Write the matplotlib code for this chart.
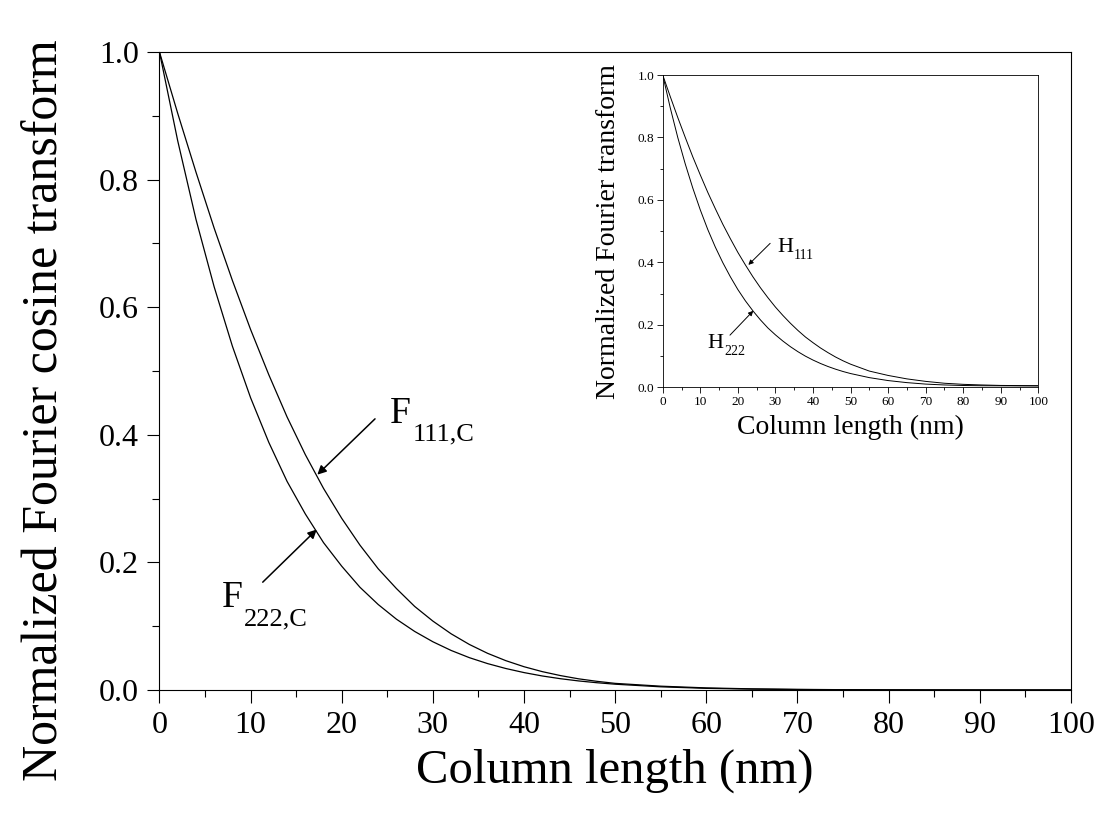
import numpy as np
import matplotlib
matplotlib.use("Agg")
import matplotlib.pyplot as plt
from matplotlib.ticker import MultipleLocator, FormatStrFormatter

plt.rcParams["font.family"] = ["Liberation Serif", "DejaVu Serif"]

# main panel: column length (nm) vs normalized Fourier cosine transform
col_len = [0, 2, 4, 6, 8, 10, 12, 14, 16, 18, 20, 22, 24, 26, 28, 30, 32, 34,
           36, 38, 40, 42, 44, 46, 48, 50, 55, 60, 65, 70, 75, 80, 85, 90, 95, 100]
f111 = [1.000, 0.904, 0.812, 0.724, 0.642, 0.565, 0.494, 0.428, 0.369, 0.316,
        0.269, 0.227, 0.190, 0.159, 0.131, 0.108, 0.0881, 0.0714, 0.0575, 0.0460,
        0.0365, 0.0288, 0.0226, 0.0175, 0.0136, 0.0104, 0.0060, 0.0033, 0.0018,
        0.0010, 0.0005, 0.0003, 0.0002, 0.0001, 0.0001, 0.0001]
f222 = [1.000, 0.861, 0.738, 0.632, 0.539, 0.458, 0.388, 0.327, 0.276, 0.231,
        0.194, 0.161, 0.134, 0.111, 0.0918, 0.0756, 0.0620, 0.0507, 0.0414, 0.0337,
        0.0273, 0.0220, 0.0177, 0.0142, 0.0114, 0.0091, 0.0050, 0.0026, 0.0014,
        0.0007, 0.0004, 0.0002, 0.0001, 0.0001, 0.0001, 0.0001]

# inset: normalized Fourier transform H
h111 = [1.000, 0.931, 0.864, 0.800, 0.738, 0.680, 0.624, 0.572, 0.522, 0.476,
        0.432, 0.392, 0.354, 0.319, 0.287, 0.257, 0.230, 0.205, 0.182, 0.161,
        0.143, 0.126, 0.111, 0.0971, 0.0849, 0.0741, 0.0520, 0.0380, 0.0270,
        0.0190, 0.0130, 0.0095, 0.0075, 0.0060, 0.0055, 0.0050]
h222 = [1.000, 0.895, 0.800, 0.715, 0.638, 0.568, 0.505, 0.449, 0.399, 0.354,
        0.313, 0.277, 0.245, 0.216, 0.190, 0.168, 0.148, 0.130, 0.114, 0.0997,
        0.0873, 0.0763, 0.0666, 0.0581, 0.0506, 0.0441, 0.0310, 0.0216, 0.0150,
        0.0103, 0.0075, 0.0058, 0.0050, 0.0048, 0.0046, 0.0045]


def sub_label(axis, x, y, main, sub, size, sub_size, dx, dy):
    # letter plus a separately placed subscript (closer to the printed look)
    axis.text(x, y, main, fontsize=size, ha="left", va="baseline")
    axis.annotate(sub, xy=(x, y), xytext=(dx, dy), textcoords="offset points",
                  fontsize=sub_size, ha="left", va="baseline")


fig = plt.figure(figsize=(11.02, 8.19), dpi=100)

ax = fig.add_axes([0.1447, 0.1575, 0.8271, 0.7790])
ax.plot(col_len, f111, color="black", lw=0.9)
ax.plot(col_len, f222, color="black", lw=0.9)
ax.set_xlim(0, 100)
ax.set_ylim(0, 1.0)
ax.xaxis.set_major_locator(MultipleLocator(10))
ax.xaxis.set_minor_locator(MultipleLocator(5))
ax.yaxis.set_major_locator(MultipleLocator(0.2))
ax.yaxis.set_minor_locator(MultipleLocator(0.1))
ax.yaxis.set_major_formatter(FormatStrFormatter("%.1f"))
ax.tick_params(which="major", direction="out", length=9, width=0.8, labelsize=23, pad=6)
ax.tick_params(which="minor", direction="out", length=5, width=0.8)
for s in ax.spines.values():
    s.set_linewidth(0.8)
ax.set_xlabel("Column length (nm)", fontsize=35, labelpad=6)
fig.text(45 / 1102, 1 - 410 / 819, "Normalized Fourier cosine transform",
         rotation=90, fontsize=36, ha="center", va="center")

arrow = dict(arrowstyle="-|>", color="black", lw=1.1, mutation_scale=13,
             shrinkA=0, shrinkB=0)
ax.annotate("", xy=(17.32, 0.3375), xytext=(23.65, 0.425), arrowprops=arrow)
ax.annotate("", xy=(17.26, 0.2516), xytext=(11.33, 0.169), arrowprops=arrow)
sub_label(ax, 25.3, 0.419, "F", "111,C", 27, 19, 16, -13)
sub_label(ax, 6.83, 0.130, "F", "222,C", 27, 19, 16, -13)

# inset
ins = fig.add_axes([0.6014, 0.5271, 0.3408, 0.3813])
ins.plot(col_len, h111, color="black", lw=0.7)
ins.plot(col_len, h222, color="black", lw=0.7)
ins.set_xlim(0, 100)
ins.set_ylim(0, 1.0)
ins.xaxis.set_major_locator(MultipleLocator(10))
ins.xaxis.set_minor_locator(MultipleLocator(5))
ins.yaxis.set_major_locator(MultipleLocator(0.2))
ins.yaxis.set_minor_locator(MultipleLocator(0.1))
ins.yaxis.set_major_formatter(FormatStrFormatter("%.1f"))
ins.tick_params(which="major", direction="out", length=4, width=0.6, labelsize=9.5, pad=2)
ins.tick_params(which="minor", direction="out", length=2.5, width=0.6)
for s in ins.spines.values():
    s.set_linewidth(0.6)
ins.set_xlabel("Column length (nm)", fontsize=20, labelpad=5)
ins.set_ylabel("Normalized Fourier transform", fontsize=20, labelpad=12)

arrow_s = dict(arrowstyle="-|>", color="black", lw=0.7, mutation_scale=7,
               shrinkA=0, shrinkB=0)
ins.annotate("", xy=(22.8, 0.392), xytext=(28.6, 0.461), arrowprops=arrow_s)
ins.annotate("", xy=(24.1, 0.245), xytext=(17.9, 0.167), arrowprops=arrow_s)
sub_label(ins, 30.4, 0.434, "H", "111", 16, 10, 12, -5)
sub_label(ins, 12.0, 0.125, "H", "222", 16, 10, 12, -5)

fig.savefig("out.png", dpi=100)
